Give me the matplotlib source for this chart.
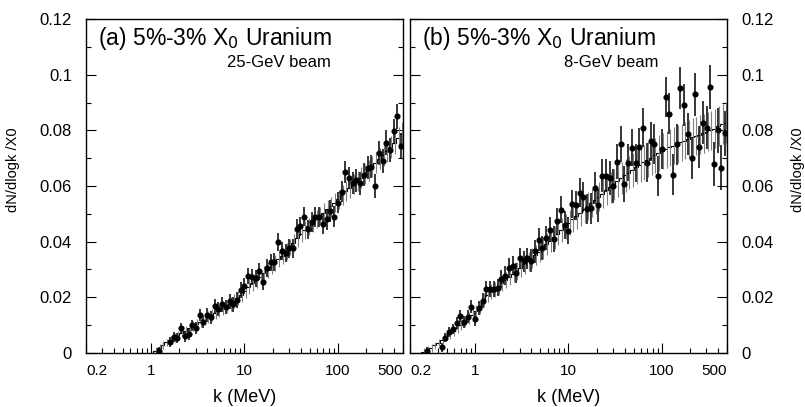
import numpy as np
import matplotlib.pyplot as plt
from matplotlib.ticker import FixedLocator, NullFormatter, MultipleLocator

plt.rcParams['font.family'] = ['Liberation Sans', 'DejaVu Sans']

# common binning: 25 bins per decade, 0.2 -> 500 MeV
log_edges = np.arange(-0.70, 2.7001, 0.04)
k_edges = 10 ** log_edges
k_centres = 10 ** (0.5 * (log_edges[:-1] + log_edges[1:]))

# (a) 25-GeV beam : data (black points), first filled bin = 19
a_first = 19
a_data = [0.0007, np.nan, np.nan,
          0.0040, 0.0057, 0.0054, 0.0090, 0.0060, 0.0067, 0.0100, 0.0090, 0.0136, 0.0110,
          0.0136, 0.0128, 0.0170, 0.0158, 0.0175, 0.0165, 0.0186, 0.0175, 0.0190, 0.0226,
          0.0240, 0.0276, 0.0272, 0.0268, 0.0294, 0.0255, 0.0305, 0.0326, 0.0326, 0.0400,
          0.0366, 0.0360, 0.0376, 0.0376, 0.0447, 0.0455, 0.0490, 0.0444, 0.0470, 0.0490,
          0.0490, 0.0465, 0.0480, 0.0510, 0.0490, 0.0540, 0.0580, 0.0650, 0.0630, 0.0610,
          0.0620, 0.0610, 0.0640, 0.0666, 0.0670, 0.0600, 0.0720, 0.0690, 0.0756, 0.0730,
          0.0797, 0.0850, 0.0745]
a_err = [0.0015, 0.0015, 0.0015,
         0.0017, 0.0017, 0.0018, 0.0018, 0.0019, 0.0019, 0.0020, 0.0020, 0.0022, 0.0022,
         0.0024, 0.0024, 0.0025, 0.0025, 0.0026, 0.0026, 0.0027, 0.0027, 0.0028, 0.0028,
         0.0028, 0.0029, 0.0029, 0.0030, 0.0030, 0.0030, 0.0031, 0.0031, 0.0032, 0.0032,
         0.0032, 0.0033, 0.0033, 0.0034, 0.0034, 0.0034, 0.0035, 0.0035, 0.0036, 0.0036,
         0.0036, 0.0037, 0.0037, 0.0038, 0.0038, 0.0038, 0.0039, 0.0039, 0.0040, 0.0040,
         0.0040, 0.0041, 0.0041, 0.0042, 0.0042, 0.0042, 0.0043, 0.0043, 0.0044, 0.0044,
         0.0045, 0.0045, 0.0046]
# (a) simulation, first bin = 18
a_mc_first = 18
a_mc = [0.0008, 0.0018, 0.0028, 0.0038, 0.0047, 0.0056, 0.0064, 0.0072, 0.0080, 0.0088,
        0.0096, 0.0104, 0.0112, 0.0120, 0.0128, 0.0136, 0.0144, 0.0152, 0.0160, 0.0168,
        0.0176, 0.0186, 0.0198, 0.0210, 0.0224, 0.0238, 0.0250, 0.0262, 0.0274, 0.0286,
        0.0298, 0.0310, 0.0322, 0.0336, 0.0350, 0.0364, 0.0380, 0.0396, 0.0412, 0.0428,
        0.0442, 0.0455, 0.0468, 0.0480, 0.0492, 0.0504, 0.0516, 0.0528, 0.0540, 0.0553,
        0.0568, 0.0582, 0.0594, 0.0606, 0.0618, 0.0630, 0.0643, 0.0656, 0.0670, 0.0684,
        0.0698, 0.0712, 0.0726, 0.0740, 0.0756, 0.0772, 0.0788]

# (b) 8-GeV beam : data, first filled bin = 4
b_first = 4
b_data = [0.0007, np.nan, np.nan, np.nan,
          0.0020, 0.0055, 0.0075, 0.0086, 0.0108, 0.0133, 0.0110, 0.0130, 0.0167, 0.0123,
          0.0162, 0.0188, 0.0230, 0.0230, 0.0230, 0.0235, 0.0266, 0.0278, 0.0306, 0.0314,
          0.0289, 0.0340, 0.0329, 0.0340, 0.0332, 0.0365, 0.0407, 0.0377, 0.0413,
          0.0443, 0.0410, 0.0475, 0.0515, 0.0460, 0.0440, 0.0536, 0.0530, 0.0576, 0.0560,
          0.0518, 0.0520, 0.0594, 0.0530, 0.0637, 0.0637, 0.0630, 0.0600, 0.0688, 0.0752,
          0.0608, 0.0684, 0.0738, 0.0684, 0.0740, 0.0810, 0.0684, 0.0760, 0.0750, 0.0637,
          0.0734, 0.0920, 0.0860, 0.0640, 0.0750, 0.0953, 0.0890, 0.0788, 0.0700, 0.0930,
          0.0740, 0.0828, 0.0810, 0.0957, 0.0680, 0.0800, 0.0666, 0.0790]
b_err = [0.0015, 0.0015, 0.0015, 0.0015,
         0.0016, 0.0017, 0.0018, 0.0019, 0.0020, 0.0021, 0.0022, 0.0023, 0.0024, 0.0025,
         0.0026, 0.0027, 0.0028, 0.0029, 0.0030, 0.0031, 0.0032, 0.0033, 0.0034, 0.0035,
         0.0036, 0.0037, 0.0038, 0.0039, 0.0040, 0.0041, 0.0042, 0.0043, 0.0044,
         0.0045, 0.0046, 0.0047, 0.0048, 0.0049, 0.0050, 0.0051, 0.0052, 0.0053, 0.0054,
         0.0055, 0.0056, 0.0057, 0.0058, 0.0059, 0.0060, 0.0061, 0.0062, 0.0063, 0.0064,
         0.0065, 0.0066, 0.0067, 0.0068, 0.0069, 0.0070, 0.0070, 0.0071, 0.0071, 0.0072,
         0.0072, 0.0073, 0.0073, 0.0074, 0.0074, 0.0075, 0.0075, 0.0076, 0.0076, 0.0077,
         0.0077, 0.0078, 0.0078, 0.0079, 0.0079, 0.0080, 0.0080, 0.0081]
# (b) simulation, first bin = 3
b_mc_first = 3
b_mc = [0.0003, 0.0010, 0.0018, 0.0027, 0.0037, 0.0047, 0.0057, 0.0068, 0.0079, 0.0090,
        0.0102, 0.0114, 0.0126, 0.0138, 0.0150, 0.0164, 0.0190, 0.0210, 0.0220, 0.0228,
        0.0238, 0.0250, 0.0262, 0.0274, 0.0285, 0.0296, 0.0307, 0.0318, 0.0329, 0.0340,
        0.0352, 0.0364, 0.0377, 0.0390, 0.0403, 0.0416, 0.0429, 0.0442, 0.0455, 0.0468,
        0.0480, 0.0492, 0.0504, 0.0516, 0.0528, 0.0540, 0.0551, 0.0562, 0.0573, 0.0584,
        0.0595, 0.0606, 0.0617, 0.0628, 0.0638, 0.0648, 0.0658, 0.0668, 0.0677, 0.0686,
        0.0694, 0.0702, 0.0710, 0.0718, 0.0725, 0.0732, 0.0739, 0.0745, 0.0751, 0.0757,
        0.0763, 0.0769, 0.0775, 0.0780, 0.0785, 0.0790, 0.0795, 0.0800, 0.0806, 0.0814,
        0.0822, 0.0828]

panels = [
    ("(a) 5%-3% X$_0$ Uranium", "25-GeV beam", a_first, a_data, a_err, a_mc_first, a_mc),
    ("(b) 5%-3% X$_0$ Uranium", "8-GeV beam", b_first, b_data, b_err, b_mc_first, b_mc),
]

fig = plt.figure(figsize=(8.05, 4.07), dpi=100)
ax_pos = [[0.1068, 0.1327, 0.3938, 0.8206], [0.5093, 0.1327, 0.3938, 0.8206]]
beam_x = [0.61, 0.634]

for n, (title, beam, first, data, err, mc_first, mc) in enumerate(panels):
    ax = fig.add_axes(ax_pos[n])
    data = np.array(data)
    err = np.array(err)
    mc = np.array(mc)

    kd = k_centres[first:first + len(data)]
    km = k_centres[mc_first:mc_first + len(mc)]
    edges_m = k_edges[mc_first:mc_first + len(mc) + 1]

    # simulation histogram
    ax.stairs(mc, edges_m, color='black', lw=0.8)
    # simulation stat errors, dotted grey, slightly shifted
    ax.errorbar(km * 10 ** 0.012, mc, yerr=np.interp(km, kd, err) * 0.9, fmt='none',
                ecolor='0.5', elinewidth=0.8, linestyle=':', capsize=0)
    # data
    ax.errorbar(kd, data, yerr=err, fmt='o', color='black', ms=3.4,
                elinewidth=1.1, capsize=0)

    ax.set_xscale('log')
    ax.set_xlim(0.2, 500)
    ax.set_ylim(0, 0.12)

    ax.xaxis.set_major_locator(FixedLocator([0.2, 1, 10, 100, 500]))
    ax.set_xticklabels(['0.2', '1', '10', '100', '500'])
    lab = ax.get_xticklabels()
    lab[0].set_horizontalalignment('left')
    lab[-1].set_horizontalalignment('right')
    minor = [m * 10.0 ** e for e in range(-1, 3) for m in range(2, 10)]
    ax.xaxis.set_minor_locator(FixedLocator([v for v in minor if 0.2 < v < 500]))
    ax.xaxis.set_minor_formatter(NullFormatter())

    ax.yaxis.set_minor_locator(MultipleLocator(0.01))
    ax.set_yticks([0, 0.02, 0.04, 0.06, 0.08, 0.1, 0.12])
    ax.set_yticklabels(['0', '0.02', '0.04', '0.06', '0.08', '0.1', '0.12'])

    ax.tick_params(which='both', direction='in', top=False, right=True, left=True,
                   width=0.8)
    ax.tick_params(which='major', length=7)
    ax.tick_params(which='minor', length=3.5)
    ax.tick_params(axis='x', pad=8, labelsize=11)
    ax.tick_params(axis='y', pad=10, labelsize=12)
    if n == 1:
        ax.tick_params(axis='y', labelleft=False, labelright=True)
        ax.yaxis.set_label_position('right')

    for s in ax.spines.values():
        s.set_linewidth(1.0)

    ax.set_xlabel('k (MeV)', fontsize=13)
    ax.xaxis.set_label_coords(0.5, -0.108)
    ax.set_ylabel('dN/dlogk /X0', fontsize=10.5)
    ax.yaxis.set_label_coords(-0.208 if n == 0 else 1.202, 0.548)

    ax.text(0.037, 0.982, title, transform=ax.transAxes, fontsize=16.5,
            ha='left', va='top')
    ax.text(beam_x[n], 0.871, beam, transform=ax.transAxes,
            fontsize=12, ha='center', va='center')

fig.savefig('out.png', dpi=100)
